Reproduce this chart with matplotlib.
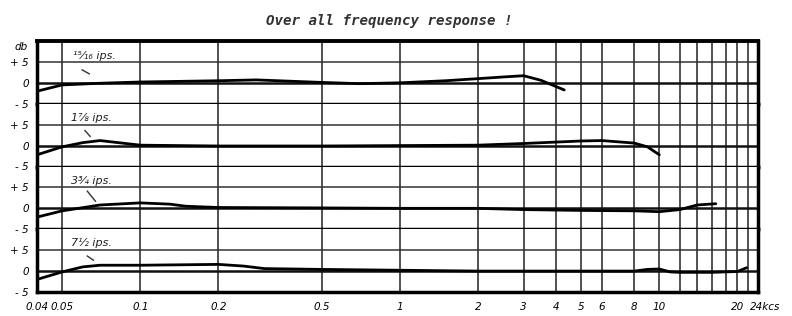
import matplotlib
matplotlib.use("Agg")
import matplotlib.pyplot as plt

# ---------------- data ----------------
title = "Over all frequency response !"
speed_labels = ["¹⁵⁄₁₆ ips.", "1⅞ ips.", "3¾ ips.", "7½ ips."]

freq_15_16 = [0.04, 0.05, 0.07, 0.1, 0.2, 0.28, 0.5, 0.7, 1, 1.5, 2, 2.5, 3, 3.5, 4.3]
db_15_16 = [-2.0, -0.5, -0.1, 0.2, 0.5, 0.7, 0.1, -0.2, 0.0, 0.5, 1.0, 1.4, 1.7, 0.6, -1.7]

freq_1_7_8 = [0.04, 0.05, 0.06, 0.07, 0.1, 0.2, 0.5, 1, 2, 3, 5, 6, 8, 9, 10]
db_1_7_8 = [-2.2, -0.3, 0.7, 1.2, 0.1, -0.1, -0.1, 0.0, 0.1, 0.5, 1.1, 1.2, 0.6, -0.3, -2.2]

freq_3_3_4 = [0.04, 0.05, 0.07, 0.1, 0.13, 0.15, 0.2, 0.5, 1, 2, 3, 5, 8, 10, 12, 14, 16.5]
db_3_3_4 = [-2.1, -0.6, 0.8, 1.3, 1.0, 0.5, 0.2, 0.1, 0.0, 0.0, -0.3, -0.5, -0.6, -0.8, -0.3, 0.8, 1.1]

freq_7_1_2 = [0.04, 0.05, 0.06, 0.07, 0.1, 0.2, 0.25, 0.3, 0.5, 1, 2, 5, 8, 9, 10, 11, 12, 16, 20, 21.7]
db_7_1_2 = [-2.0, -0.2, 1.0, 1.4, 1.4, 1.6, 1.2, 0.6, 0.4, 0.2, 0.0, 0.0, 0.0, 0.4, 0.5, -0.2, -0.3, -0.3, -0.1, 0.8]

series = [(freq_15_16, db_15_16), (freq_1_7_8, db_1_7_8),
          (freq_3_3_4, db_3_3_4), (freq_7_1_2, db_7_1_2)]

x_ticks = [0.04, 0.05, 0.1, 0.2, 0.5, 1, 2, 3, 4, 5, 6, 8, 10, 20]
x_tick_labels = ["0.04", "0.05", "0.1", "0.2", "0.5", "1", "2", "3", "4", "5", "6", "8", "10", "20"]
last_tick = 24
last_tick_label = "24kcs"
x_grid = [0.05, 0.1, 0.2, 0.5, 1, 2, 3, 4, 5, 6, 8, 10, 12, 14, 16, 18, 20, 22]
y_ticks = [5, 0, -5]
y_tick_labels = ["+ 5", "0", "- 5"]

# label positions / leader marks (styling)
label_pos = [(0.055, 6.4), (0.054, 6.7), (0.054, 6.5), (0.054, 6.7)]
leaders = [((0.0597, 3.1), (0.0636, 2.15)), ((0.0612, 3.6), (0.0641, 2.2)),
           ((0.0625, 4.1), (0.0672, 1.7)), ((0.0625, 3.6), (0.066, 2.6))]

# ---------------- figure ----------------
fig = plt.figure(figsize=(7.92, 3.16), dpi=100)
fig.patch.set_facecolor("white")
left, right, bottom, top = 37/792, 758/792, 1 - 292/316, 1 - 41/316
gs = fig.add_gridspec(4, 1, left=left, right=right, bottom=bottom, top=top, hspace=0)

axes = []
for i in range(4):
    ax = fig.add_subplot(gs[i, 0], sharex=axes[0] if axes else None)
    axes.append(ax)
    ax.set_xscale("log")
    ax.set_xlim(0.04, 24)
    ax.set_ylim(-5, 10)
    for xv in x_grid:
        ax.axvline(xv, color="#222222", lw=1.1, zorder=1)
    ax.axhline(5, color="#333333", lw=1.1, zorder=1)
    ax.axhline(0, color="#111111", lw=1.8, zorder=1)
    f, d = series[i]
    ax.plot(f, d, color="black", lw=2.0, zorder=3, solid_capstyle="round")
    ax.text(label_pos[i][0], label_pos[i][1], speed_labels[i], fontsize=8,
            style="italic", color="#222222", va="center", ha="left", zorder=4)
    (x0, y0), (x1, y1) = leaders[i]
    ax.plot([x0, x1], [y0, y1], color="#333333", lw=1.0, zorder=4)

    ax.set_yticks(y_ticks)
    ax.set_yticklabels(y_tick_labels, fontsize=7.5, style="italic")
    ax.tick_params(axis="y", length=0, pad=6)
    ax.minorticks_off()
    for s in ["left", "right", "bottom"]:
        ax.spines[s].set_linewidth(2.5)
        ax.spines[s].set_color("black")
    if i == 0:
        ax.spines["top"].set_linewidth(2.8)
        ax.text(-0.022, 8.6, "db", fontsize=7.5, style="italic",
                transform=ax.get_yaxis_transform(), ha="center", va="center")
    else:
        ax.spines["top"].set_visible(False)
    if i < 3:
        ax.tick_params(axis="x", which="both", length=0, labelbottom=False)

ax = axes[-1]
ax.set_xticks(x_ticks)
ax.set_xticklabels(x_tick_labels, fontsize=7.5, style="italic")
ax.xaxis.set_minor_locator(matplotlib.ticker.NullLocator())
ax.tick_params(axis="x", which="both", length=0, pad=7)
ax.annotate(last_tick_label, xy=(last_tick, 0), xycoords=("data", "axes fraction"),
            xytext=(-8, -10), textcoords="offset pixels", fontsize=7.5, style="italic",
            ha="left", va="top", annotation_clip=False)

fig.text(0.492, 0.935, title, fontsize=10.2, style="italic", weight="bold",
         family="DejaVu Sans Mono", ha="center", va="center", color="#333333")

fig.savefig("out.png", dpi=100, facecolor="white")
